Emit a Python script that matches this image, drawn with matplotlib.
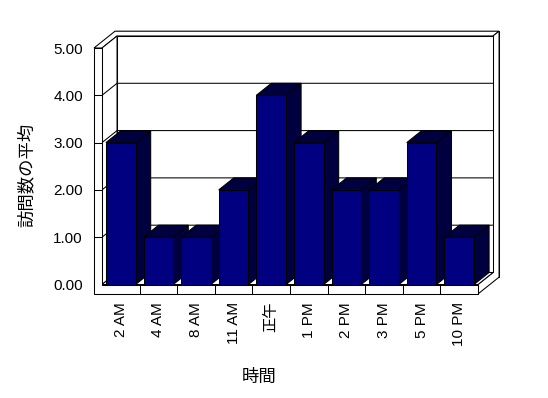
import matplotlib
matplotlib.use('Agg')
import matplotlib.pyplot as plt
from matplotlib.patches import Polygon

plt.rcParams['font.family'] = ['Liberation Sans', 'Noto Sans CJK JP']

# data
categories = ['2 AM', '4 AM', '8 AM', '11 AM', '正午', '1 PM', '2 PM', '3 PM', '5 PM', '10 PM']
visits = [3, 1, 1, 2, 4, 3, 2, 2, 3, 1]
y_ticks = [0, 1, 2, 3, 4, 5]
x_title = '時間'
y_title = '訪問数の平均'

NAVY = '#000080'
DARK = '#000040'
DX, DY = 0.40, 0.254   # shift for one unit of depth (data units)
WALL = 0.213           # left wall thickness
FLOOR = 0.2            # floor thickness
BACK = 1.4             # depth incl. back wall
LW = 0.75


def P(x, y, z=0):
    return (x + z * DX, y + z * DY)


def face(ax, pts, fc='white', zo=1):
    ax.add_patch(Polygon(pts, closed=True, fc=fc, ec='black', lw=LW,
                         clip_on=False, zorder=zo, joinstyle='miter'))


def line(ax, pts, zo=2):
    xs, ys = zip(*pts)
    ax.plot(xs, ys, color='black', lw=LW, clip_on=False, zorder=zo,
            solid_capstyle='butt')


fig = plt.figure(figsize=(5.48, 3.98), dpi=100)
ax = fig.add_axes([102 / 548, (398 - 284.5) / 398, 376 / 548, 236.5 / 398])
n = len(categories)
x0, x1 = -0.5, n - 0.5
ymax = y_ticks[-1]
ax.set_xlim(x0, x1)
ax.set_ylim(0, ymax)

# walls and floor
face(ax, [P(x0 - WALL, -FLOOR, BACK), P(x1, -FLOOR, BACK),
          P(x1, ymax, BACK), P(x0 - WALL, ymax, BACK)])
face(ax, [P(x0 - WALL, ymax), P(x0, ymax), P(x0, ymax, 1), P(x1, ymax, 1),
          P(x1, ymax, BACK), P(x0 - WALL, ymax, BACK)])
face(ax, [P(x1, -FLOOR), P(x1, -FLOOR, BACK), P(x1, ymax, BACK),
          P(x1, ymax, 1), P(x1, 0, 1), P(x1, 0)])
face(ax, [P(x0, 0, 1), P(x1, 0, 1), P(x1, ymax, 1), P(x0, ymax, 1)])
face(ax, [P(x0, 0), P(x0, 0, 1), P(x0, ymax, 1), P(x0, ymax)])
face(ax, [P(x0, 0), P(x1, 0), P(x1, 0, 1), P(x0, 0, 1)])
face(ax, [P(x0 - WALL, -FLOOR), P(x1, -FLOOR), P(x1, 0), P(x0, 0),
          P(x0, ymax), P(x0 - WALL, ymax)], zo=20)

for v in y_ticks[1:-1]:
    line(ax, [P(x0, v), P(x0, v, 1), P(x1, v, 1)])
    line(ax, [P(x0 - WALL, v), P(x0, v)], zo=21)
for k in range(1, n):
    line(ax, [P(k - 0.5, -FLOOR), P(k - 0.5, 0)], zo=21)

# bars
w = 0.79
for i, v in enumerate(visits):
    l, r = i - w / 2, i + w / 2
    zo = 5 + i * 0.1
    face(ax, [P(r, 0), P(r, 0, 1), P(r, v, 1), P(r, v)], fc=DARK, zo=zo)
    face(ax, [P(l, v), P(r, v), P(r, v, 1), P(l, v, 1)], fc=DARK, zo=zo)
    face(ax, [P(l, 0), P(r, 0), P(r, v), P(l, v)], fc=NAVY, zo=zo + 0.05)

# ticks and labels
ax.set_xticks(range(n), categories, rotation=90, fontsize=11)
ax.set_yticks(y_ticks, ['%.2f' % t for t in y_ticks], fontsize=11)
ax.tick_params(axis='x', length=0, pad=12.6)
ax.tick_params(axis='y', length=0, pad=13.7)
for s in ax.spines.values():
    s.set_visible(False)
ax.patch.set_visible(False)

fig.text(26 / 548, 1 - 175 / 398, y_title, rotation=90, ha='center',
         va='center', fontsize=12.5)
fig.text(259 / 548, 1 - 377 / 398, x_title, ha='center', va='center',
         fontsize=12.5)

fig.savefig('out.png', dpi=100)
